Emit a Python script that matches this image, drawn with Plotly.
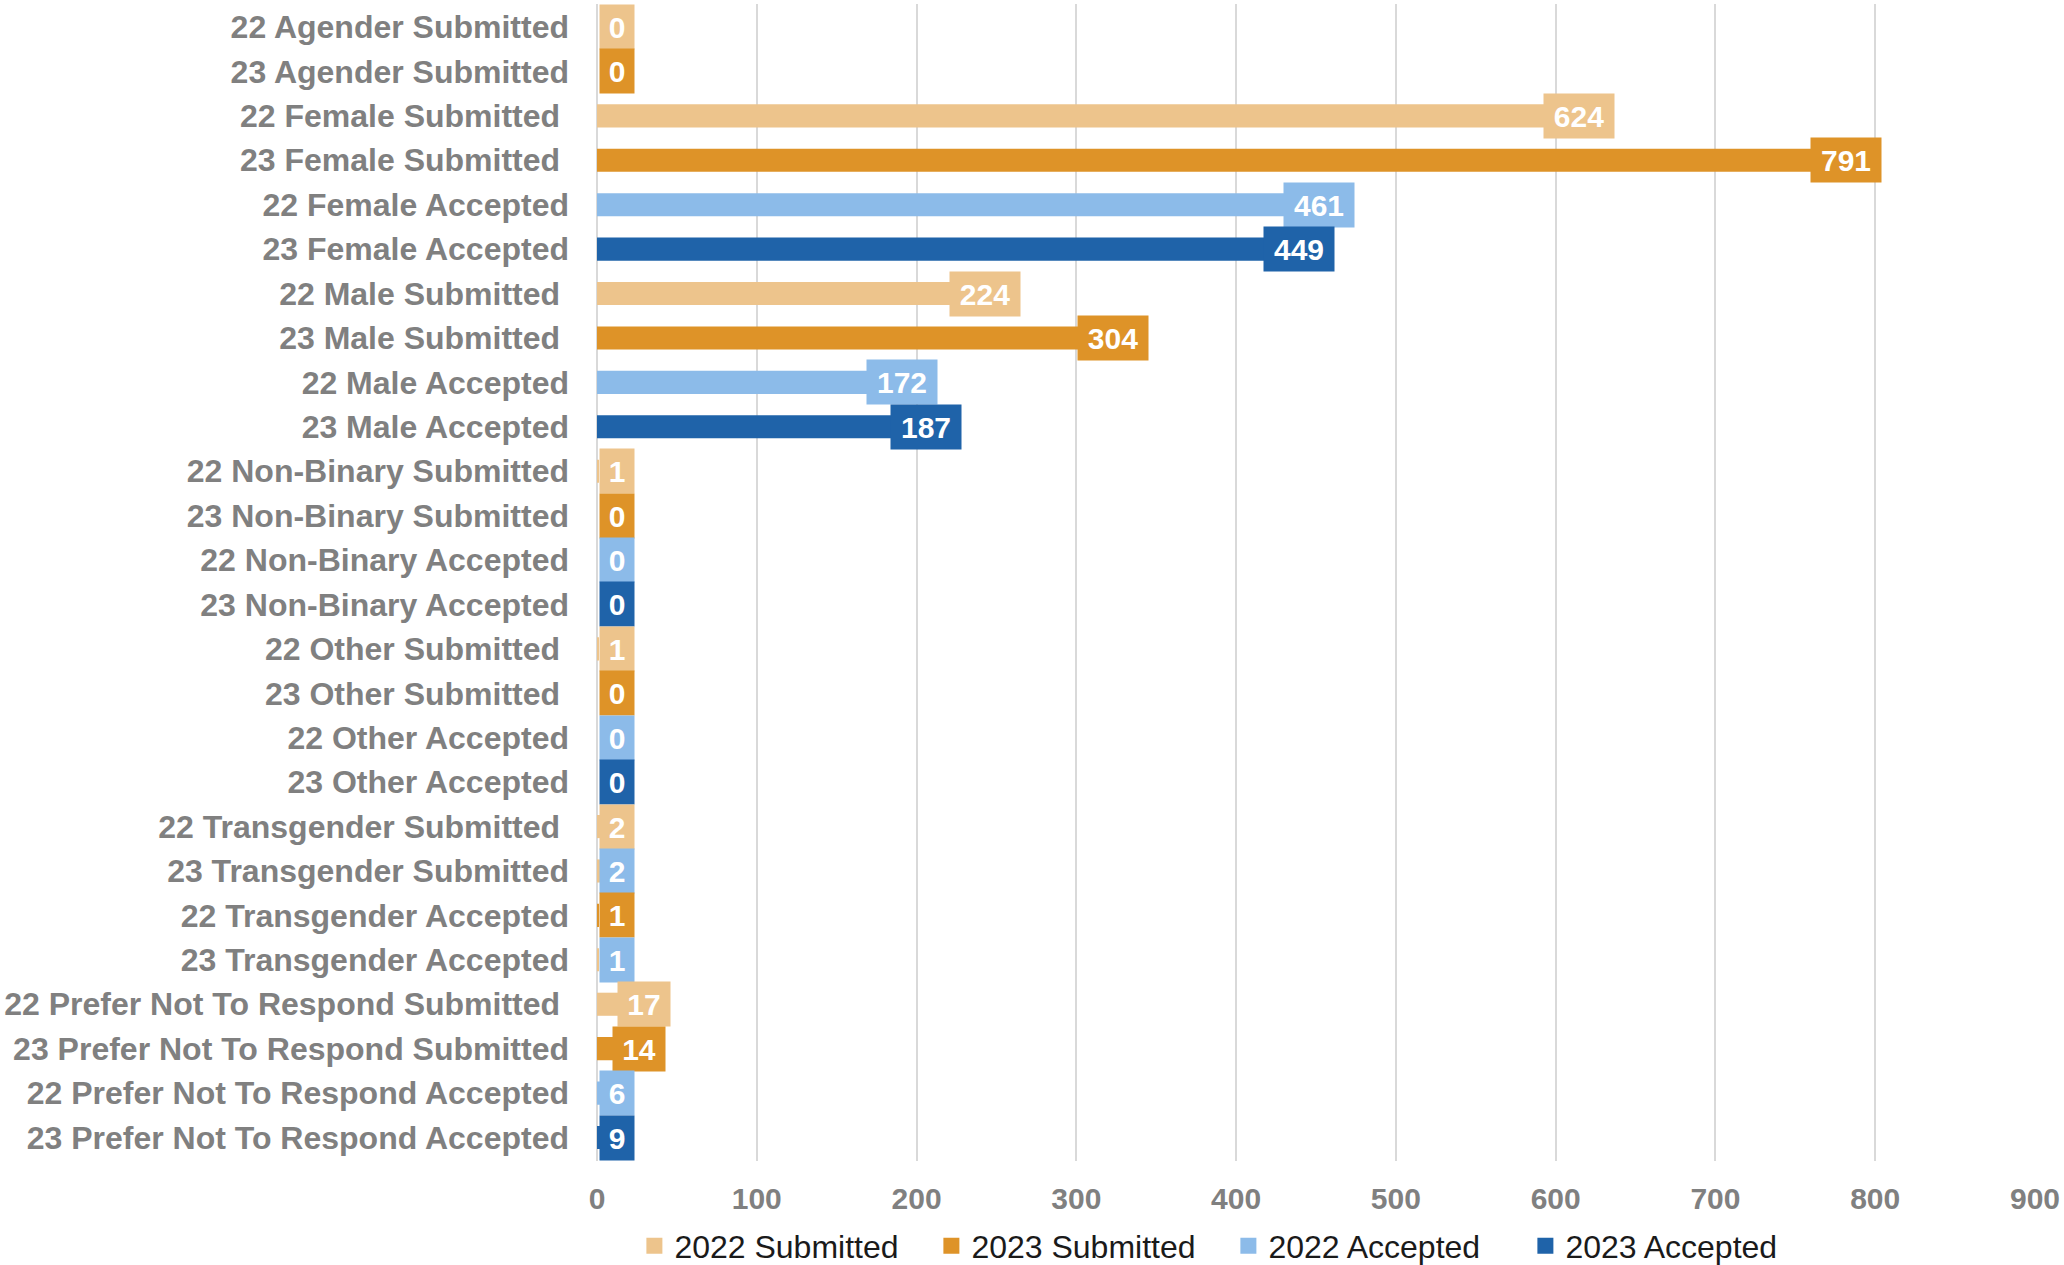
import plotly.graph_objects as go

categories = [
    "22 Agender Submitted", "23 Agender Submitted",
    "22 Female Submitted\u00a0", "23 Female Submitted\u00a0",
    "22 Female Accepted", "23 Female Accepted",
    "22 Male Submitted\u00a0", "23 Male Submitted\u00a0",
    "22 Male Accepted", "23 Male Accepted",
    "22 Non-Binary Submitted", "23 Non-Binary Submitted",
    "22 Non-Binary Accepted", "23 Non-Binary Accepted",
    "22 Other Submitted\u00a0", "23 Other Submitted\u00a0",
    "22 Other Accepted", "23 Other Accepted",
    "22 Transgender Submitted\u00a0", "23 Transgender Submitted",
    "22 Transgender Accepted", "23 Transgender Accepted",
    "22 Prefer Not To Respond Submitted\u00a0", "23 Prefer Not To Respond Submitted",
    "22 Prefer Not To Respond Accepted", "23 Prefer Not To Respond Accepted",
]
values = [0, 0, 624, 791, 461, 449, 224, 304, 172, 187,
          1, 0, 0, 0, 1, 0, 0, 0, 2, 2, 1, 1, 17, 14, 6, 9]
# series index used for bar colour and for label-box colour
bar_series = [0, 1, 0, 1, 2, 3, 0, 1, 2, 3,
              0, 1, 2, 3, 0, 1, 2, 3, 0, 0, 1, 0, 0, 1, 2, 3]
label_series = [0, 1, 0, 1, 2, 3, 0, 1, 2, 3,
                0, 1, 2, 3, 0, 1, 2, 3, 0, 2, 1, 2, 0, 1, 2, 3]
series_names = ["2022 Submitted", "2023 Submitted", "2022 Accepted", "2023 Accepted"]
series_colors = ["#EDC48C", "#DE9328", "#8CBBE9", "#1F63A9"]
x_ticks = [0, 100, 200, 300, 400, 500, 600, 700, 800, 900]

W, H = 2064, 1265
ML, MR, MT, MB = 597, 27, 4, 101
x_max = 900
ppu = (W - ML - MR) / x_max

fig = go.Figure()
fig.add_trace(go.Bar(
    x=values, y=categories, orientation="h",
    marker=dict(color=[series_colors[s] for s in bar_series], line=dict(width=0)),
    showlegend=False, hoverinfo="x+y",
))
for name, color in zip(series_names, series_colors):
    fig.add_trace(go.Scatter(
        x=[None], y=[None], mode="markers", name=name,
        marker=dict(symbol="square", size=16, color=color),
    ))

for cat, v, s in zip(categories, values, label_series):
    n = len(str(v))
    w = 16 + 18 * n
    if n == 1:
        shift = 20 - v * ppu
    elif v < 100:
        shift = 20
    elif v < 400:
        shift = 30
    else:
        shift = -15
    fig.add_annotation(
        x=v, y=cat, xref="x", yref="y", text=str(v), showarrow=False,
        xanchor="center", yanchor="middle", xshift=shift,
        width=w, height=44, borderpad=0, bgcolor=series_colors[s],
        font=dict(family="Arial", size=30, color="white", weight="bold"),
    )

fig.update_layout(
    width=W, height=H,
    margin=dict(l=ML, r=MR, t=MT, b=MB, pad=0),
    paper_bgcolor="white", plot_bgcolor="white",
    bargap=0.48,
    font=dict(family="Arial"),
    xaxis=dict(
        range=[0, x_max], tickvals=x_ticks, showgrid=True,
        gridcolor="#D9D9D9", gridwidth=2, zeroline=True, zerolinecolor="#D9D9D9",
        zerolinewidth=2, showline=False, ticks="",
        tickfont=dict(family="Arial", size=30, color="#808080", weight="bold"),
        ticklabelstandoff=17, fixedrange=True,
    ),
    yaxis=dict(
        type="category", autorange="reversed", showgrid=False, zeroline=False,
        showline=False, ticks="", ticklabelstandoff=27,
        tickfont=dict(family="Arial", size=32, color="#808080", weight="bold"),
        fixedrange=True,
    ),
    legend=dict(
        orientation="h", x=0.026, xanchor="left",
        yref="container", y=1 - 1246 / H, yanchor="middle",
        font=dict(family="Arial", size=32, color="#1A1A1A"),
        entrywidth=252, entrywidthmode="pixels", itemwidth=30,
        bgcolor="rgba(0,0,0,0)",
    ),
)

fig.write_html(
    "out.html",
    config={"displayModeBar": False},
    post_script="document.body.style.margin='0';document.body.style.overflow='hidden';",
)
